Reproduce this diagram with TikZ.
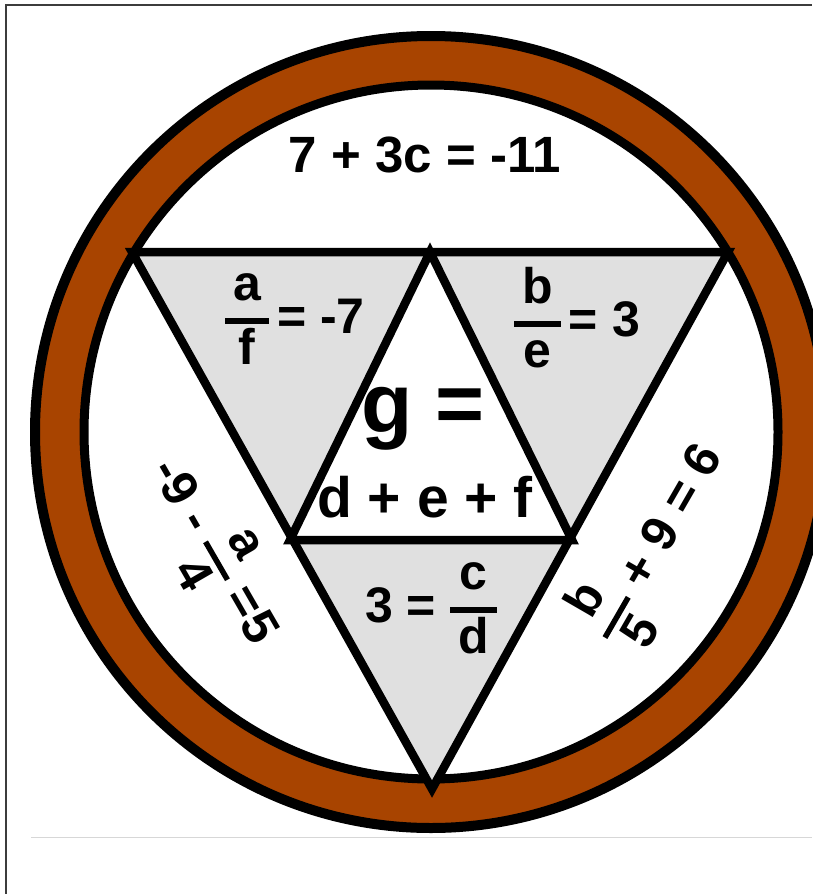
\documentclass[tikz,border=0pt]{standalone}
\usepackage{fontspec}
\setmainfont{Liberation Sans}
\definecolor{ringbrown}{RGB}{168,68,0}
\definecolor{trigray}{RGB}{224,224,224}
\definecolor{framegray}{RGB}{60,60,60}
\definecolor{rulegray}{RGB}{215,215,215}
\newcommand\myfr[2]{\raisebox{0.12em}{\setlength\arrayrulewidth{0.11em}\renewcommand\arraystretch{1.0}\begin{tabular}{@{\hspace{0.16em}}c@{\hspace{0.16em}}}#1\\\hline #2\end{tabular}}}
\tikzset{
  tri/.style={fill=trigray},
  edge/.style={line width=8.5pt, line join=miter},
  eq/.style={inner sep=0pt, font=\bfseries\fontsize{50}{58}\selectfont},
}
\begin{document}
\begin{tikzpicture}[x=1pt,y=-1pt]
\useasboundingbox (0,0) rectangle (812,894);
\fill[white] (0,0) rectangle (812,894);
\draw[framegray, line width=1.5pt] (6,894) -- (6,5) -- (812,5);
\draw[rulegray, line width=1pt] (31,837) -- (812,837);
\coordinate (c) at (431,432);
\draw[line width=10pt, fill=ringbrown] (c) circle (396pt);
\draw[line width=9pt, fill=white] (c) circle (347pt);
\coordinate (L) at (132,252);
\coordinate (R) at (728,252);
\coordinate (B) at (432,789);
\coordinate (T) at (430,252);
\coordinate (ML) at (290,540);
\coordinate (MR) at (572,540);
\fill[tri] (L) -- (T) -- (ML) -- cycle;
\fill[tri] (T) -- (R) -- (MR) -- cycle;
\fill[tri] (ML) -- (MR) -- (B) -- cycle;
\draw[edge] (L) -- (R) -- (B) -- cycle;
\draw[edge] (T) -- (MR) -- (ML) -- cycle;
\node[eq, anchor=base, font=\bfseries\fontsize{51}{60}\selectfont] (title) at (425,172) {7 + 3c = -11};
\node[eq, anchor=base] (tl) at (295,333) {\myfr{a}{f}\,= -7};
\node[eq, anchor=base] (tr) at (577,336) {\myfr{b}{e}\,= 3};
\node[eq, anchor=base] (bt) at (431,622) {3 = \myfr{c}{d}};
\node[eq, anchor=base, font=\bfseries\fontsize{84}{90}\selectfont] (g) at (423,432) {g =};
\node[eq, anchor=base, font=\bfseries\fontsize{57}{62}\selectfont] (sum) at (425,517) {d + e + f};
\node[eq, rotate=-60] (lt) at (212,553) {-9 - \myfr{a}{4} =5};
\node[eq, rotate=60] (rt) at (659,544) {\myfr{b}{5} + 9 = 6};
\end{tikzpicture}
\end{document}
